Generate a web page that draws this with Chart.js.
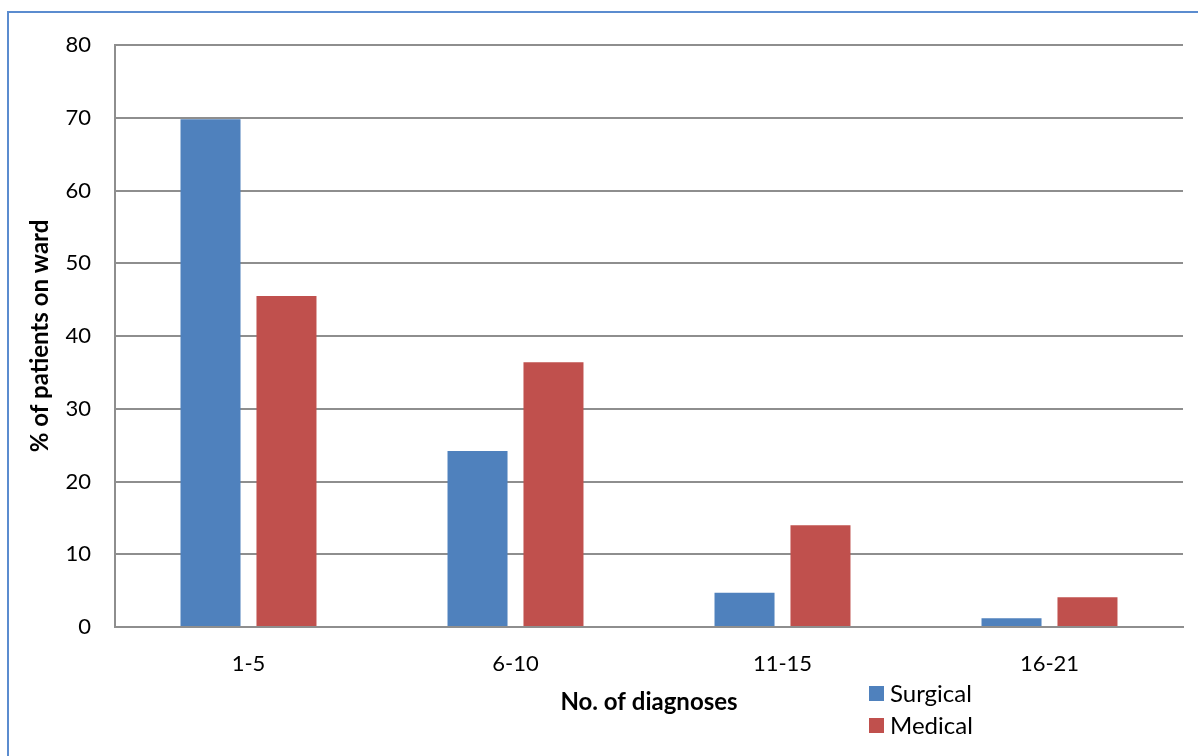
<!DOCTYPE html>
<html lang="en">
<head>
    <meta charset="UTF-8">
    <title>Diagnoses per patient</title>
    <script src="https://cdn.jsdelivr.net/npm/chart.js"></script>
    <style>
        html, body { margin: 0; padding: 0; background: #fff; overflow: hidden; }
        #frame {
            position: absolute; left: 7px; top: 11px; width: 1300px; height: 900px;
            border-top: 2px solid #5b8ccf; border-left: 2px solid #5b8ccf;
        }
        #myChart { position: absolute; left: 0; top: 0; }
    </style>
</head>
<body>
    <div id="frame"></div>
    <canvas id="myChart" width="1198" height="756"></canvas>
<script>
    const categories = ['1-5', '6-10', '11-15', '16-21'];
    const surgical = [69.8, 24.2, 4.7, 1.2];
    const medical = [45.5, 36.4, 14.0, 4.1];
    const seriesNames = ['Surgical', 'Medical'];
    const yTicks = [0, 10, 20, 30, 40, 50, 60, 70, 80];

    const font = 'Lato';

    // two-row legend sitting right of the x axis title
    const sideLegend = {
        id: 'sideLegend',
        afterDraw(chart) {
            const ctx = chart.ctx;
            const x0 = chart.chartArea.right - 314;
            const y0 = chart.chartArea.bottom + 66;
            ctx.save();
            ctx.font = '24px ' + font;
            ctx.textBaseline = 'middle';
            chart.data.datasets.forEach((ds, i) => {
                const y = y0 + i * 32;
                ctx.fillStyle = ds.backgroundColor;
                ctx.fillRect(x0, y - 7, 15, 15);
                ctx.fillStyle = '#000';
                ctx.fillText(ds.label, x0 + 21, y + 1);
            });
            ctx.restore();
        }
    };

    new Chart(document.getElementById('myChart'), {
        type: 'bar',
        data: {
            labels: categories,
            datasets: [
                { label: seriesNames[0], data: surgical, backgroundColor: '#4f81bd' },
                { label: seriesNames[1], data: medical, backgroundColor: '#c0504d' }
            ]
        },
        options: {
            responsive: false,
            animation: false,
            categoryPercentage: 0.569,
            barPercentage: 0.79,
            layout: { padding: { left: 22, top: 45, right: 15, bottom: 35 } },
            plugins: {
                legend: { display: false },
                tooltip: { enabled: false }
            },
            scales: {
                x: {
                    grid: { display: false, drawTicks: false },
                    border: { color: '#8e8e8e', width: 2 },
                    ticks: { color: '#000', font: { family: font, size: 22 }, padding: 24 },
                    title: {
                        display: true, text: 'No. of diagnoses', color: '#000',
                        font: { family: font, size: 24, weight: 'bold' }
                    },
                    afterFit(scale) { scale.height = 721 - 627; }
                },
                y: {
                    min: 0, max: 80,
                    afterBuildTicks(scale) { scale.ticks = yTicks.map(v => ({ value: v })); },
                    grid: { color: '#8e8e8e', lineWidth: 2, drawTicks: false },
                    border: { color: '#8e8e8e', width: 2 },
                    ticks: { color: '#000', font: { family: font, size: 22 }, padding: 24 },
                    title: {
                        display: true, text: '% of patients on ward', color: '#000',
                        font: { family: font, size: 24, weight: 'bold' }
                    },
                    afterFit(scale) { scale.width = 115 - 22; }
                }
            }
        },
        plugins: [sideLegend]
    });
</script>
</body>
</html>
